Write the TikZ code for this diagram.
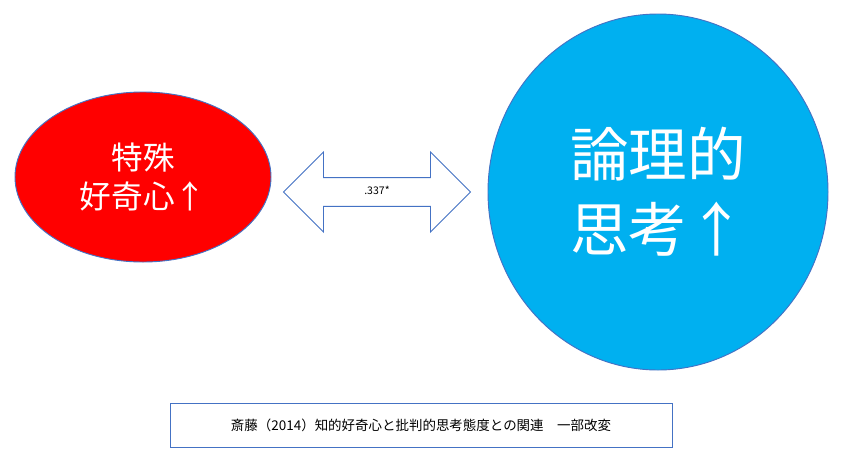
\documentclass[tikz,border=0pt]{standalone}
\usepackage{fontspec}
\setmainfont{Noto Sans CJK JP}
\usetikzlibrary{shapes.arrows,shapes.geometric}
\definecolor{rimblue}{HTML}{4472C4}
\definecolor{skyfill}{HTML}{00B0F0}
\begin{document}
\begin{tikzpicture}[x=0.03cm,y=-0.03cm,
  blob/.style={ellipse, draw=rimblue, line width=0.8pt, text=white, align=center, inner sep=0pt}]
  \useasboundingbox (0,0) rectangle (846,469);
  \node[blob, fill=red, minimum width=256*0.03cm, minimum height=170*0.03cm,
        font=\fontsize{27}{34}\selectfont] (curious) at (143,177) {特殊\\好奇心↑};
  \node[blob, fill=skyfill, minimum width=340*0.03cm, minimum height=356*0.03cm,
        font=\fontsize{50}{64}\selectfont] (logic) at (658,192) {論理的\\思考↑};
  \node[double arrow, draw=rimblue, line width=0.8pt, fill=white,
        minimum height=187*0.03cm, minimum width=80*0.03cm,
        double arrow head extend=11.5*0.03cm, inner sep=0pt,
        font=\fontsize{9}{11}\selectfont] (link) at (377,192) {\raisebox{3pt}{.337*}};
  \node[draw=rimblue, line width=0.6pt, minimum width=502*0.03cm, minimum height=44*0.03cm,
        font=\fontsize{11.5}{14}\selectfont] (cite) at (421,425)
        {斎藤（2014）知的好奇心と批判的思考態度との関連　一部改変};
\end{tikzpicture}
\end{document}
